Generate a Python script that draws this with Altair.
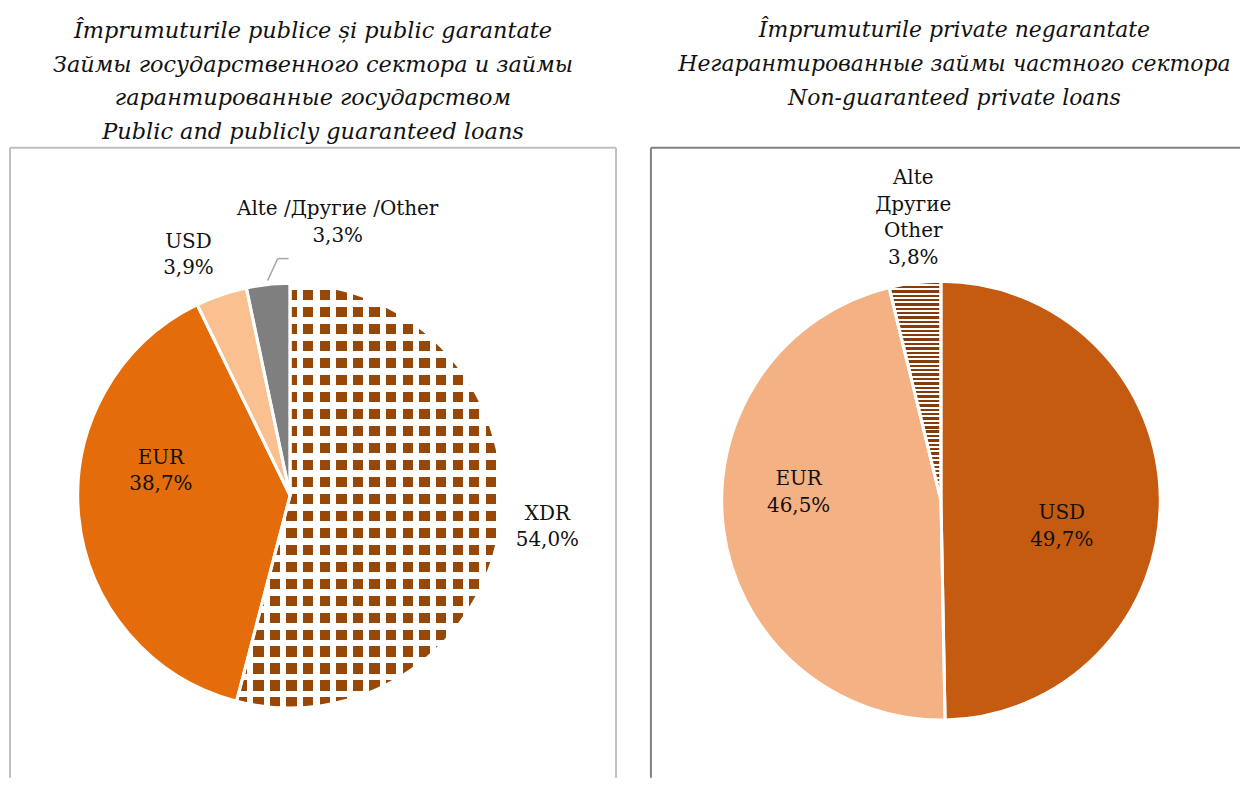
import math
import altair as alt
import pandas as pd

# ---------------- data ----------------
left_cats = ["XDR", "EUR", "USD", "Alte /Другие /Other"]
left_vals = [54.0, 38.7, 3.9, 3.3]
right_cats = ["USD", "EUR", "Alte\nДругие\nOther"]
right_vals = [49.7, 46.5, 3.8]

left_title = ["Împrumuturile publice și public garantate",
              "Займы государственного сектора и займы",
              "гарантированные государством",
              "Public and publicly guaranteed loans"]
right_title = ["Împrumuturile private negarantate",
               "Негарантированные займы частного сектора",
               "Non-guaranteed private loans",
               " "]

# ---------------- layout / style ----------------
FONT = "DejaVu Serif"
W1, W2, H = 608, 591, 632
L_CX, L_CY, L_R = 281, 349, 213
R_CX, R_CY, R_R = 291, 354, 220
LEFT_LABEL_ANGLE = [96.9, 280.9, 337.1, 9.9]
LEFT_LABEL_R = [260, 132, 262, 278]
RIGHT_LABEL_ANGLE = [102.1, 273.2, 354.4]
RIGHT_LABEL_R = [124, 143, 285]
LABEL_LH = 26.5

BROWN_L = "#974806"
BROWN_R = "#843C0C"
CLEAR = "rgba(255,255,255,0)"


def stripes(col_a, col_b, n, frac, along_x):
    stops = []
    for i in range(n):
        s, m, e = i / n, (i + frac) / n, (i + 1) / n
        stops += [alt.GradientStop(offset=s, color=col_a),
                  alt.GradientStop(offset=m, color=col_a),
                  alt.GradientStop(offset=m, color=col_b),
                  alt.GradientStop(offset=e, color=col_b)]
    if along_x:
        return alt.LinearGradient(gradient="linear", stops=stops, x1=0, y1=0, x2=1, y2=0)
    return alt.LinearGradient(gradient="linear", stops=stops, x1=0, y1=0, x2=0, y2=1)


def fmt(v):
    return f"{v:.1f}".replace(".", ",") + "%"


def make_df(cats, vals, la, lr):
    return pd.DataFrame({
        "order": list(range(len(cats))),
        "cat": cats,
        "val": vals,
        "label": [c + "\n" + fmt(v) for c, v in zip(cats, vals)],
        "la": la,
        "lr": lr,
    })


theta_scale = alt.Scale(domain=[0, 1], range=[0, 2 * math.pi])


def base_chart(df):
    return (alt.Chart(df)
            .transform_window(cum="sum(val)", sort=[alt.SortField("order")], frame=[None, 0])
            .transform_joinaggregate(total="sum(val)")
            .transform_calculate(start="(datum.cum - datum.val) / datum.total",
                                 end="datum.cum / datum.total"))


def slice_layer(base, idx, fill, R, cx, cy):
    return (base.transform_filter(f"datum.order == {idx}")
            .mark_arc(outerRadius=R, fill=fill)
            .encode(theta=alt.Theta("start:Q", scale=theta_scale, stack=None),
                    theta2=alt.Theta2("end"),
                    x=alt.value(cx), y=alt.value(cy)))


def sep_layer(base, R, cx, cy):
    return (base.mark_arc(outerRadius=R, fill="transparent", stroke="white", strokeWidth=3)
            .encode(theta=alt.Theta("start:Q", scale=theta_scale, stack=None),
                    theta2=alt.Theta2("end"),
                    x=alt.value(cx), y=alt.value(cy)))


def text_layer(base, cx, cy):
    return (base.transform_calculate(
                nl="split(datum.label, '\\n').length",
                lx=f"{cx} + datum.lr * sin(datum.la * PI / 180)")
            .transform_calculate(
                ly=f"{cy} - datum.lr * cos(datum.la * PI / 180) - (datum.nl - 1) * {LABEL_LH} / 2")
            .mark_text(font=FONT, fontSize=20, lineBreak="\n", lineHeight=LABEL_LH,
                       align="center", baseline="middle", color="#111111")
            .encode(x=alt.X("lx:Q", scale=None), y=alt.Y("ly:Q", scale=None),
                    text="label:N"))


one = pd.DataFrame({"k": [0]})


def box_rules(color, W, right_side):
    top = alt.Chart(one).mark_rule(color=color, strokeWidth=2).encode(
        x=alt.value(0), x2=alt.value(W), y=alt.value(0))
    left = alt.Chart(one).mark_rule(color=color, strokeWidth=2).encode(
        x=alt.value(0), y=alt.value(0), y2=alt.value(H))
    layers = [top, left]
    if right_side:
        layers.append(alt.Chart(one).mark_rule(color=color, strokeWidth=2).encode(
            x=alt.value(W), y=alt.value(0), y2=alt.value(H)))
    return layers


def title(lines, size, dx=0):
    return alt.TitleParams(text=lines, font=FONT, fontStyle="italic", fontWeight="normal",
                           fontSize=size, lineHeight=34, anchor="middle", offset=3,
                           color="#111111", dx=dx)


# ---------------- left pie ----------------
ldf = make_df(left_cats, left_vals, LEFT_LABEL_ANGLE, LEFT_LABEL_R)
lb = base_chart(ldf)
left_layers = box_rules("#BFBFBF", W1, True) + [
    slice_layer(lb, 0, stripes(BROWN_L, "white", 16, 0.62, True), L_R, L_CX, L_CY),
    slice_layer(lb, 0, stripes("white", CLEAR, 25, 0.38, False), L_R, L_CX, L_CY),
    slice_layer(lb, 1, "#E46C0A", L_R, L_CX, L_CY),
    slice_layer(lb, 2, "#FAC090", L_R, L_CX, L_CY),
    slice_layer(lb, 3, "#7F7F7F", L_R, L_CX, L_CY),
    sep_layer(lb, L_R, L_CX, L_CY),
]

# leader line for the small "Other" slice
lead = (lb.transform_filter("datum.order == 3")
        .transform_calculate(mid="(datum.start + datum.end) * PI")
        .transform_calculate(x0=f"{L_CX} + {L_R + 4} * sin(datum.mid)",
                             y0=f"{L_CY} - {L_R + 4} * cos(datum.mid)")
        .transform_calculate(x1="datum.x0 + 10", y1="datum.y0 - 22", x2b="datum.x0 + 21"))
left_layers += [
    lead.mark_rule(color="#A6A6A6", strokeWidth=1.5).encode(
        x=alt.X("x0:Q", scale=None), y=alt.Y("y0:Q", scale=None),
        x2="x1:Q", y2="y1:Q"),
    lead.mark_rule(color="#A6A6A6", strokeWidth=1.5).encode(
        x=alt.X("x1:Q", scale=None), y=alt.Y("y1:Q", scale=None),
        x2="x2b:Q", y2="y1:Q"),
    text_layer(lb, L_CX, L_CY),
]
left = alt.layer(*left_layers).properties(width=W1, height=H, title=title(left_title, 22.5))

# ---------------- right pie ----------------
rdf = make_df(right_cats, right_vals, RIGHT_LABEL_ANGLE, RIGHT_LABEL_R)
rb = base_chart(rdf)
right_layers = box_rules("#808080", W2, False) + [
    slice_layer(rb, 0, "#C55A11", R_R, R_CX, R_CY),
    slice_layer(rb, 1, "#F4B183", R_R, R_CX, R_CY),
    slice_layer(rb, 2, stripes(BROWN_R, "white", 50, 0.55, False), R_R, R_CX, R_CY),
    sep_layer(rb, R_R, R_CX, R_CY),
    text_layer(rb, R_CX, R_CY),
]
right = alt.layer(*right_layers).properties(width=W2, height=H,
                                            title=title(right_title, 22, dx=9))

chart = (alt.hconcat(left, right, spacing=33)
         .properties(padding={"left": 1, "top": 10, "right": 0, "bottom": 0})
         .configure_view(stroke=None))

chart.save("out.html", embed_options={"renderer": "svg", "actions": False})
